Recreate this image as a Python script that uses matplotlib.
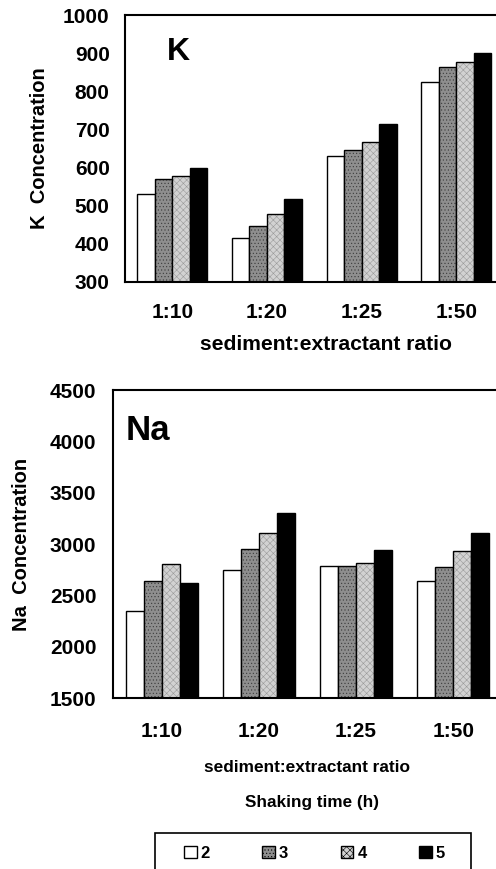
import numpy as np
import matplotlib
matplotlib.use('Agg')
import matplotlib.pyplot as plt
from matplotlib.patches import Patch, Rectangle

plt.rcParams['font.family'] = ['Liberation Sans', 'DejaVu Sans']
plt.rcParams['font.weight'] = 'bold'
plt.rcParams['axes.labelweight'] = 'bold'
plt.rcParams['hatch.linewidth'] = 0.4

ratios = ['1:10', '1:20', '1:25', '1:50']
times = ['2', '3', '4', '5']

# K concentration, one list per shaking time
k_2h = [530, 416, 631, 824]
k_3h = [569, 446, 647, 865]
k_4h = [577, 479, 668, 878]
k_5h = [598, 518, 715, 900]

# Na concentration
na_2h = [2346, 2749, 2791, 2641]
na_3h = [2641, 2953, 2791, 2774]
na_4h = [2804, 3105, 2817, 2933]
na_5h = [2619, 3306, 2943, 3105]

faces = ['white', '#8e8e8e', '#d2d2d2', 'black']
hatches = [None, '.....', 'xxxxx', None]
hcolors = ['black', '#3a3a3a', '#9a9a9a', 'black']

W, H = 496, 869
fig = plt.figure(figsize=(W / 100, H / 100), dpi=100)
ax1 = fig.add_axes([0.252, 0.6755, 0.763, 0.3072])
ax2 = fig.add_axes([0.2278, 0.1964, 0.7843, 0.3548])

x = np.arange(len(ratios))
w = 0.185


def draw(ax, series):
    for i, vals in enumerate(series):
        bars = ax.bar(x + (i - 1.5) * w, vals, w, facecolor=faces[i],
                      edgecolor='black', linewidth=1.0, hatch=hatches[i])
        for b in bars:
            b._hatch_color = matplotlib.colors.to_rgba(hcolors[i])
    ax.set_xlim(-0.5, 3.5)
    ax.set_xticks(x)
    ax.set_xticklabels(ratios)
    ax.tick_params(length=0, labelsize=15)
    for s in ax.spines.values():
        s.set_linewidth(1.5)


draw(ax1, [k_2h, k_3h, k_4h, k_5h])
ax1.set_ylim(300, 1000)
ax1.set_yticks(range(300, 1001, 100))
ax1.tick_params(axis='y', pad=11)
ax1.tick_params(axis='x', pad=15)
ax1.set_ylabel('K  Concentration', fontsize=14.5)
ax1.yaxis.set_label_coords(-0.226, 0.5)
ax1.yaxis.label.set_va('center')
ax1.set_xlabel('sediment:extractant ratio', fontsize=15.2)
ax1.xaxis.set_label_coords(0.531, -0.236)
ax1.xaxis.label.set_va('center')
ax1.text(0.14, 0.86, 'K', transform=ax1.transAxes, fontsize=23,
         ha='center', va='center')

draw(ax2, [na_2h, na_3h, na_4h, na_5h])
ax2.set_ylim(1500, 4500)
ax2.set_yticks(range(1500, 4501, 500))
ax2.tick_params(axis='y', pad=12)
ax2.tick_params(axis='x', pad=17)
ax2.set_ylabel('Na  Concentration', fontsize=14.5)
ax2.yaxis.set_label_coords(-0.236, 0.5)
ax2.yaxis.label.set_va('center')
ax2.set_xlabel('sediment:extractant ratio', fontsize=12.4)
ax2.xaxis.set_label_coords((307.5 - 113) / 389, -0.225)
ax2.xaxis.label.set_va('center')
ax2.text(0.09, 0.87, 'Na', transform=ax2.transAxes, fontsize=25,
         ha='center', va='center')

fig.text(311.7 / W, 1 - 802 / H, 'Shaking time (h)', fontsize=12.3,
         ha='center', va='center')

# legend entries, frame drawn separately (box runs off the bottom edge)
handles = [Patch(facecolor=faces[i], edgecolor='black', hatch=hatches[i],
                 linewidth=1.0) for i in range(4)]
leg = fig.legend(handles, times, loc='center left', ncol=4,
                 bbox_to_anchor=(184 / W, 1 - 853 / H), fontsize=12,
                 frameon=False, handlelength=0.75, handleheight=0.75,
                 handletextpad=0.25, columnspacing=3.15, borderpad=0,
                 borderaxespad=0)
box = Rectangle((155 / W, 1 - 880 / H), (471 - 155) / W, 47 / H,
                transform=fig.transFigure, fill=False, edgecolor='black',
                linewidth=1.2)
fig.patches.append(box)

fig.savefig('out.png', dpi=100)
